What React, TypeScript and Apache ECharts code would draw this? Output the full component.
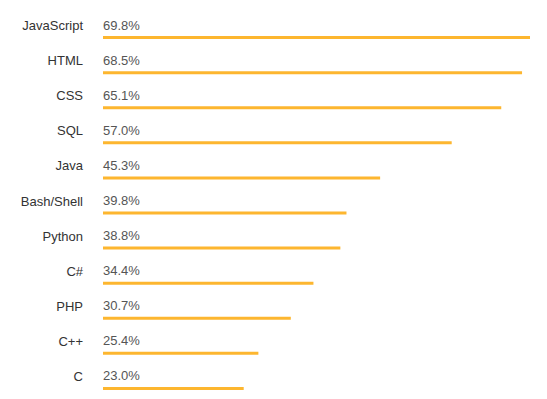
import React, { useEffect, useRef } from "react";
import * as echarts from "echarts";

const languages = ["JavaScript", "HTML", "CSS", "SQL", "Java", "Bash/Shell", "Python", "C#", "PHP", "C++", "C"];
const shares = [69.8, 68.5, 65.1, 57.0, 45.3, 39.8, 38.8, 34.4, 30.7, 25.4, 23.0];

export default function App() {
  const ref = useRef<HTMLDivElement>(null);
  useEffect(() => {
    const chart = echarts.init(ref.current!, null, { renderer: "svg" });
    chart.setOption({
      animation: false,
      grid: { left: 103, right: 17, top: 20, height: 386 },
      xAxis: { type: "value", min: 0, max: 69.8, show: false },
      yAxis: {
        type: "category",
        data: languages,
        inverse: true,
        axisLine: { show: false },
        axisTick: { show: false },
        splitLine: { show: false },
        axisLabel: {
          margin: 20,
          fontFamily: "Liberation Sans, Arial, sans-serif",
          fontSize: 13,
          color: "#333",
          verticalAlign: "bottom",
          lineHeight: 24,
        },
      },
      series: [
        {
          type: "bar",
          data: shares,
          barWidth: 3,
          itemStyle: { color: "#fdb62f" },
          label: {
            show: true,
            position: [0, -11],
            align: "left",
            verticalAlign: "middle",
            formatter: (p: any) => p.value.toFixed(1) + "%",
            fontFamily: "Liberation Sans, Arial, sans-serif",
            fontSize: 13,
            color: "#555",
          },
        },
      ],
    });
    return () => chart.dispose();
  }, []);
  return (
    <div style={{ width: 547, height: 399, margin: -8, overflow: "hidden" }}>
      <div ref={ref} style={{ width: 547, height: 420 }} />
    </div>
  );
}
